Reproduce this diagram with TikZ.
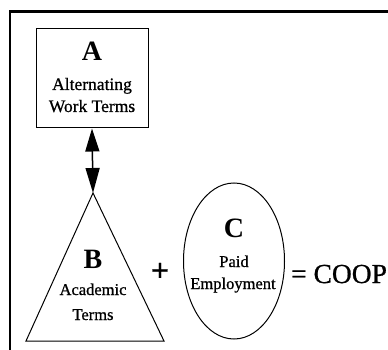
\documentclass[tikz,border=0pt]{standalone}
\usepackage{fontspec}
\setmainfont{Liberation Serif}
\newfontfamily\heavyserif[FakeBold=0.8]{Liberation Serif}
\usetikzlibrary{calc}
\usetikzlibrary{arrows.meta}
\usetikzlibrary{shapes.geometric}

\begin{document}
\begin{tikzpicture}[x=1pt,y=-1pt]
    \tikzstyle{frame}=[line width=2.5pt,color=black]
    \tikzstyle{outline}=[line width=1pt,color=black]
    \tikzstyle{link}=[{Triangle[length=23pt,width=14pt]}-{Triangle[length=25pt,width=14pt]},line width=1.5pt,color=black]
    \tikzstyle{letter}=[anchor=base,inner sep=0pt,font=\fontsize{28}{28}\selectfont\bfseries]
    \tikzstyle{term text A}=[anchor=base,inner sep=0pt,font=\heavyserif\fontsize{17.5}{20}\selectfont]
    \tikzstyle{term text B}=[anchor=base,inner sep=0pt,font=\heavyserif\fontsize{16.5}{18}\selectfont]
    \tikzstyle{term text C}=[anchor=base,inner sep=0pt,font=\heavyserif\fontsize{16.5}{18}\selectfont]

    \useasboundingbox (0,0) rectangle (388,350);

    \coordinate (b_top) at (93,193);
    \coordinate (b_left) at (26,341);
    \coordinate (b_right) at (164,341);

    % Frame
    \draw[style=frame] (10,350) -- (10,11.5) -- (388,11.5);

    % Box A
    \node[draw,style=outline,minimum width=112pt,minimum height=99pt,inner sep=0pt] (boxA) at (92,78.5) {};
    \node[style=letter] (letA) at (92,61) {A};
    \node[style=term text A] (txtA_1) at (92,90) {Alternating};
    \node[style=term text A] (txtA_2) at (92,112) {Work Terms};

    % Triangle B
    \draw[style=outline] (b_top) -- (b_left) -- (b_right) -- cycle;
    \node[style=letter] (letB) at (93,268) {B};
    \node[style=term text B] (txtB_1) at (93,295) {Academic};
    \node[style=term text B] (txtB_2) at (93,320) {Terms};

    % Link A <-> B
    \draw[style=link] (boxA.south) -- (b_top);

    % Ellipse C
    \node[ellipse,draw,style=outline,minimum width=101pt,minimum height=156pt,inner sep=0pt] (ellC) at (234,261) {};
    \node[style=letter] (letC) at (234,237) {C};
    \node[style=term text C] (txtC_1) at (234,267) {Paid};
    \node[style=term text C] (txtC_2) at (233,289) {Employment};

    % Sum
    \node[inner sep=0pt,font=\heavyserif\fontsize{32}{32}\selectfont\bfseries] (plus) at (160,272) {+};
    \node[anchor=base west,inner sep=0pt,font=\heavyserif\fontsize{27.5}{28}\selectfont] (coop) at (291,283) {= COOP};

\end{tikzpicture}
\end{document}
